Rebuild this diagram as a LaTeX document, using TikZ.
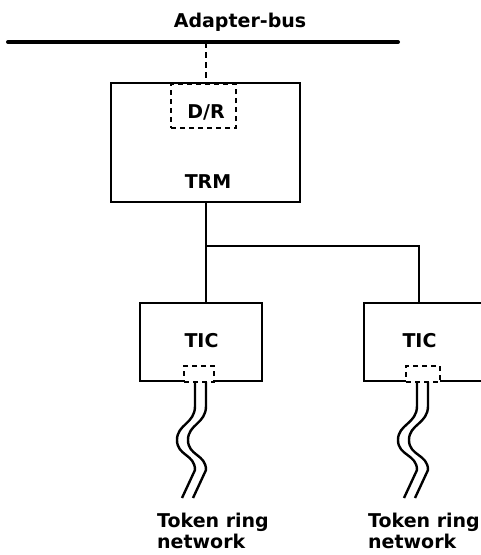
\documentclass[tikz,border=0pt]{standalone}
\usepackage{fontspec}
\setmainfont{DejaVu Sans}
\begin{document}
\begin{tikzpicture}[x=1pt,y=-1pt,
  box/.style={draw,line width=1.7pt,minimum width=#1,inner sep=0pt},
  dbox/.style={draw,dashed,dash pattern=on 5pt off 4pt,line width=1.7pt,inner sep=0pt,fill=white},
  lbl/.style={font=\bfseries\fontsize{19}{21}\selectfont,inner sep=0pt},
  wire/.style={line width=2.4pt},
  conn/.style={line width=1.7pt}]
\useasboundingbox (0,0) rectangle (481,555);
\begin{scope}
\clip (0,0) rectangle (481,555);
% bus
\coordinate (busL) at (8,42);
\coordinate (busR) at (398,42);
\draw[line width=4pt,line cap=round] (busL) -- (busR);
\node[lbl,anchor=base] (bustxt) at (240,27) {Adapter-bus};
% TRM
\node[box=189pt,minimum height=119pt] (trm) at (205.5,142.5) {};
\node[lbl,anchor=base] (trmtxt) at (208,188) {TRM};
\node[dbox,minimum width=65pt,minimum height=44pt] (dr) at (203.5,106) {};
\node[lbl,anchor=base] (drtxt) at (206,118) {D/R};
\coordinate (busdr) at (206,42);
\draw[conn,dashed,dash pattern=on 6pt off 4pt] (busdr) -- (busdr |- dr.north);
% TICs
\node[box=122pt,minimum height=78pt] (tic1) at (201,342) {};
\node[box=122pt,minimum height=78pt] (tic2) at (425,342) {};
\node[lbl,anchor=base] (tic1txt) at (201.5,347) {TIC};
\node[lbl,anchor=base] (tic2txt) at (419.5,347) {TIC};
% connections
\coordinate (j1) at (206,246);
\coordinate (j2) at (419,246);
\draw[conn] (j1 |- trm.south) -- (j1) -- (j1 |- tic1.north);
\draw[conn] (j1) -- (j2) -- (j2 |- tic2.north);
% small dashed ports
\node[dbox,minimum width=30pt,minimum height=16pt] (p1) at (199,374) {};
\node[dbox,minimum width=34pt,minimum height=16pt] (p2) at (423,374) {};
% wires
\foreach \dx in {0,11}{
  \draw[wire] ([xshift=\dx pt]195,382) -- ++(0,24)
     .. controls ++(0,18) and ++(0,-16) .. ++(-18,34)
     .. controls ++(0,16) and ++(0,-16) .. ++(18,30)
     -- ++(-13,28);
  \draw[wire] ([xshift=\dx pt]417,382) -- ++(0,24)
     .. controls ++(0,18) and ++(0,-16) .. ++(-19,34)
     .. controls ++(0,16) and ++(0,-16) .. ++(19,30)
     -- ++(-13,28);
}
\node[lbl,align=left,anchor=base west] (net1) at (157,548) {Token ring\\network};
\node[lbl,align=left,anchor=base west] (net2) at (368,548) {Token ring\\network};
\end{scope}
\end{tikzpicture}
\end{document}
